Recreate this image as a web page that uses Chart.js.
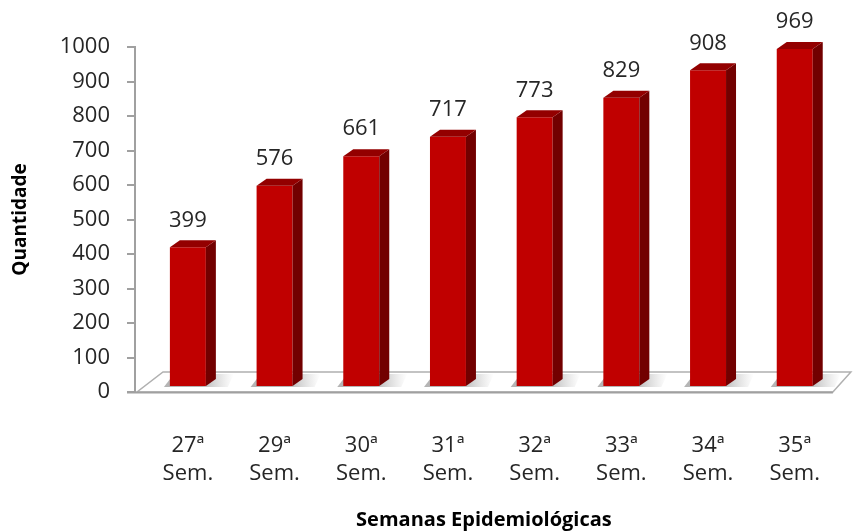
<!DOCTYPE html>
<html>
<head>
<meta charset="utf-8">
<script src="https://cdn.jsdelivr.net/npm/chart.js@4.4.1/dist/chart.umd.min.js"></script>
<style>
  html, body { margin: 0; padding: 0; background: #fff; }
  #wrap { width: 853px; height: 532px; }
</style>
</head>
<body>
<div id="wrap"><canvas id="myChart" width="853" height="532"></canvas></div>
<script>
// dados
const semanas = ['27ª', '29ª', '30ª', '31ª', '32ª', '33ª', '34ª', '35ª'];
const quantidade = [399, 576, 661, 717, 773, 829, 908, 969];
const yTicks = [0, 100, 200, 300, 400, 500, 600, 700, 800, 900, 1000];

const FONT = "'Open Sans', 'DejaVu Sans', sans-serif";
const DEPTH_X = 10;
const DEPTH_Y = -7;

// piso + faces 3D das barras
const bars3d = {
  id: 'bars3d',
  beforeDatasetsDraw(chart) {
    const c = chart.ctx;
    const x = chart.scales.x;
    const y = chart.scales.y;
    const y0 = y.getPixelForValue(0);
    const back = y0 - 20;
    const left = x.left;
    const right = x.right;

    c.save();
    // piso
    c.beginPath();
    c.moveTo(left + 2, y0);
    c.lineTo(right, y0);
    c.lineTo(right + 18, back);
    c.lineTo(left + 28, back);
    c.closePath();
    c.fillStyle = '#ffffff';
    c.fill();
    c.strokeStyle = '#b0b0b0';
    c.lineWidth = 1.5;
    c.stroke();
    // borda frontal
    c.beginPath();
    c.moveTo(left - 8, y0 + 0.5);
    c.lineTo(right, y0 + 0.5);
    c.strokeStyle = '#a0a0a0';
    c.lineWidth = 2;
    c.stroke();

    // sombras
    const meta = chart.getDatasetMeta(0);
    meta.data.forEach(bar => {
      const r = bar.x + bar.width / 2;
      const b = bar.base;
      const g = c.createLinearGradient(r - 4, 0, r + 28, 0);
      g.addColorStop(0, 'rgba(120,120,120,0.55)');
      g.addColorStop(1, 'rgba(160,160,160,0)');
      c.beginPath();
      c.moveTo(bar.x - bar.width / 2 - 6, b + 1);
      c.lineTo(r + 22, b + 1);
      c.lineTo(r + 28, back + 2);
      c.lineTo(bar.x - bar.width / 2 + 4, back + 2);
      c.closePath();
      c.fillStyle = g;
      c.fill();
    });
    c.restore();
  },
  afterDatasetsDraw(chart) {
    const c = chart.ctx;
    const meta = chart.getDatasetMeta(0);
    c.save();
    meta.data.forEach((bar, i) => {
      const l = bar.x - bar.width / 2;
      const r = bar.x + bar.width / 2;
      const t = bar.y;
      const b = bar.base;
      // lateral
      c.beginPath();
      c.moveTo(r, t);
      c.lineTo(r + DEPTH_X, t + DEPTH_Y);
      c.lineTo(r + DEPTH_X, b + DEPTH_Y);
      c.lineTo(r, b);
      c.closePath();
      c.fillStyle = '#720000';
      c.fill();
      // topo
      c.beginPath();
      c.moveTo(l, t);
      c.lineTo(l + DEPTH_X, t + DEPTH_Y);
      c.lineTo(r + DEPTH_X, t + DEPTH_Y);
      c.lineTo(r, t);
      c.closePath();
      c.fillStyle = '#930000';
      c.fill();

      // rótulo
      c.fillStyle = '#262626';
      c.font = '22px ' + FONT;
      c.textAlign = 'center';
      c.textBaseline = 'middle';
      c.fillText(String(quantidade[i]), bar.x, t - 27);
    });
    c.restore();
  }
};

const ctx = document.getElementById('myChart').getContext('2d');

new Chart(ctx, {
  type: 'bar',
  data: {
    datasets: [{
      data: quantidade.map((v, i) => ({ x: i, y: v })),
      backgroundColor: '#c00000',
      borderWidth: 0,
      barPercentage: 0.415,
      categoryPercentage: 1,
      yAxisID: 'y2'
    }]
  },
  options: {
    responsive: false,
    animation: false,
    layout: { padding: { left: 9, right: 18, top: 47, bottom: 0 } },
    plugins: {
      legend: { display: false },
      tooltip: { enabled: false }
    },
    scales: {
      x: {
        type: 'linear',
        offset: false,
        min: -0.61,
        max: 7.44,
        grid: { display: false },
        border: { display: false },
        afterBuildTicks: s => { s.ticks = semanas.map((_, i) => ({ value: i })); },
        afterFit: s => { s.height = 140; },
        ticks: {
          autoSkip: false,
          maxRotation: 0,
          padding: 32,
          color: '#262626',
          font: { family: FONT, size: 22, lineHeight: 1.27 },
          callback: v => [semanas[v], 'Sem.']
        },
        title: {
          display: true,
          text: 'Semanas Epidemiológicas',
          color: '#000',
          padding: 0,
          font: { family: FONT, size: 20, weight: 'bold', lineHeight: 1.2 }
        }
      },
      y: {
        min: 0,
        max: 1000,
        afterBuildTicks: s => { s.ticks = yTicks.map(v => ({ value: v })); },
        afterFit: s => { s.width = 126; },
        grid: {
          drawOnChartArea: false,
          drawTicks: true,
          tickLength: 8,
          color: '#a0a0a0',
          lineWidth: 2
        },
        border: { color: '#a0a0a0', width: 2 },
        ticks: {
          padding: 17,
          color: '#262626',
          font: { family: FONT, size: 22 },
          callback: v => String(v)
        },
        title: {
          display: true,
          text: 'Quantidade',
          color: '#000',
          padding: 0,
          font: { family: FONT, size: 19, weight: 'bold', lineHeight: 1.2 }
        }
      },
      y2: {
        display: false,
        min: -17,
        max: 975
      }
    }
  },
  plugins: [bars3d]
});
</script>
</body>
</html>
